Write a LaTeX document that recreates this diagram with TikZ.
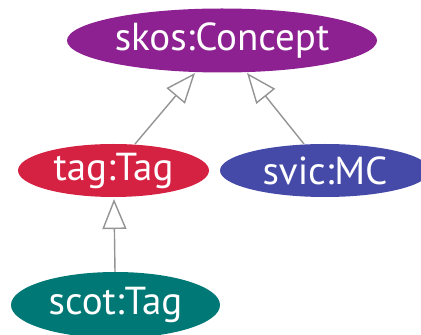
\documentclass[tikz,border=0pt]{standalone}
\usepackage{fontspec}
\setmainfont{PT Sans}
\usetikzlibrary{arrows.meta,shapes.geometric}
\begin{document}
\begin{tikzpicture}[x=1pt,y=1pt,
  cls/.style={ellipse,inner sep=0pt,text=white,font=\fontsize{39}{42}\selectfont},
  isa/.style={draw=black!42,line width=1.4pt,-{Triangle[open,length=30pt,width=24pt,line width=1.4pt]}}]
\useasboundingbox (0,0) rectangle (421,335);
\begin{scope}
\clip (0,0) rectangle (421,335);
\node[cls,fill={rgb,255:red,142;green,33;blue,146},minimum width=310pt,minimum height=64pt] (skos) at (222,294.5) {skos:Concept};
\node[cls,fill={rgb,255:red,214;green,34;blue,66},minimum width=191pt,minimum height=53pt] (tag) at (113.5,164.5) {tag:Tag};
\node[cls,fill={rgb,255:red,69;green,74;blue,168},minimum width=210pt,minimum height=53pt] (svic) at (325,164.5) {svic:MC};
\node[cls,fill={rgb,255:red,0;green,120;blue,118},minimum width=209pt,minimum height=66pt] (scot) at (115.5,30) {scot:Tag};
\end{scope}
\coordinate (s1) at (135,191);
\coordinate (t1) at (195,262);
\coordinate (s2) at (304,191);
\coordinate (t2) at (247,262);
\coordinate (s3) at (115,63);
\coordinate (t3) at (114,136);
\draw[isa] (s1) -- (t1);
\draw[isa] (s2) -- (t2);
\draw[isa] (s3) -- (t3);
\end{tikzpicture}
\end{document}
